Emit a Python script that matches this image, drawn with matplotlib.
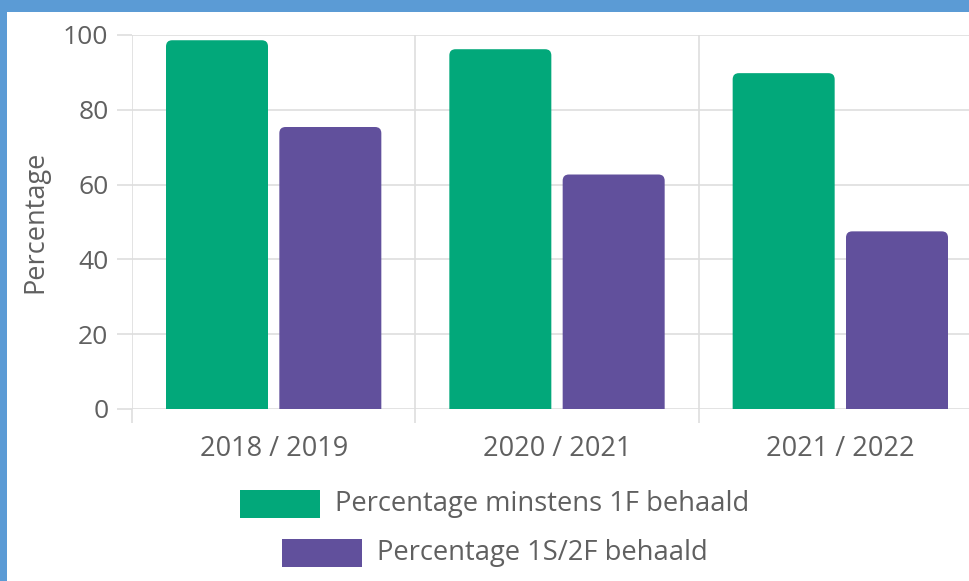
import numpy as np
import matplotlib
matplotlib.use("Agg")
import matplotlib.pyplot as plt
from matplotlib.patches import FancyBboxPatch, Rectangle

plt.rcParams['font.family'] = ['Open Sans', 'DejaVu Sans']

years = ["2018 / 2019", "2020 / 2021", "2021 / 2022"]
min_1f = [98.6, 96.2, 89.8]
s1_2f = [75.4, 62.7, 47.5]
series_names = ["Percentage minstens 1F behaald", "Percentage 1S/2F behaald"]
colors = ["#02A87A", "#61509C"]
yticks = [0, 20, 40, 60, 80, 100]

W, H = 970, 581
fig = plt.figure(figsize=(W / 100, H / 100), dpi=100)
fig.patch.set_facecolor("#5B9BD5")
# white inner panel (blue border on left and top only)
fig.patches.append(Rectangle((7 / W, 0), 1, 1 - 12 / H, transform=fig.transFigure,
                             facecolor="white", edgecolor="none", zorder=-5))

# plot area in pixels: x 132..982, y 35..409 (from top)
ax = fig.add_axes([132 / W, (H - 409) / H, 850 / W, 374 / H])
ax.set_zorder(2)
ax.set_facecolor("none")
ax.set_xlim(-0.5, 2.5)
ax.set_ylim(0, 100)

grid_c = "#dedede"
text_c = "#606060"

x = np.arange(len(years))
bw = 0.36
off = 0.2
asp = (100 / 374) / (3 / 850)  # data-y per px / data-x per px
for vals, dx, c in [(min_1f, -off, colors[0]), (s1_2f, off, colors[1])]:
    for xi, v in zip(x, vals):
        p = FancyBboxPatch((xi + dx - bw / 2, -5), bw, v + 5,
                           boxstyle="round,pad=0,rounding_size=0.022",
                           mutation_aspect=asp, facecolor=c, edgecolor="none",
                           zorder=3)
        ax.add_patch(p)

for s in ax.spines.values():
    s.set_visible(False)

ax.set_yticks(yticks)
ax.set_yticklabels([str(t) for t in yticks])
ax.yaxis.grid(True, color=grid_c, linewidth=1.2, zorder=0)
ax.tick_params(axis="y", length=11, color=grid_c, width=1.2, labelsize=19,
               labelcolor=text_c, pad=6)

ax.set_xticks([-0.5, 0.5, 1.5, 2.5])
ax.set_xticklabels([])
ax.set_xticks(x, minor=True)
ax.set_xticklabels(years, minor=True)
ax.xaxis.grid(True, which="major", color=grid_c, linewidth=1.2, zorder=0)
ax.tick_params(axis="x", which="major", length=10, color=grid_c, width=1.2)
ax.tick_params(axis="x", which="minor", length=0, labelsize=19.5,
               labelcolor=text_c, pad=19)
ax.set_axisbelow(True)

ax.set_ylabel("Percentage", fontsize=19.5, color=text_c, labelpad=10)

# legend, each entry centred on the canvas
cx = 494.5
rows = [(504, 0), (553, 1)]
for yc, i in rows:
    t = fig.text(0, 0, series_names[i], fontsize=19.7, color=text_c, va="center")
    fig.canvas.draw()
    tw = t.get_window_extent().width
    total = 80 + 15 + tw
    x0 = cx - total / 2
    fig.patches.append(Rectangle((x0 / W, (H - yc - 14) / H), 80 / W, 28 / H,
                                 transform=fig.transFigure, facecolor=colors[i],
                                 edgecolor="none", zorder=2))
    t.set_position(((x0 + 95) / W, (H - yc) / H))

fig.savefig("out.png", dpi=100, facecolor=fig.get_facecolor())
